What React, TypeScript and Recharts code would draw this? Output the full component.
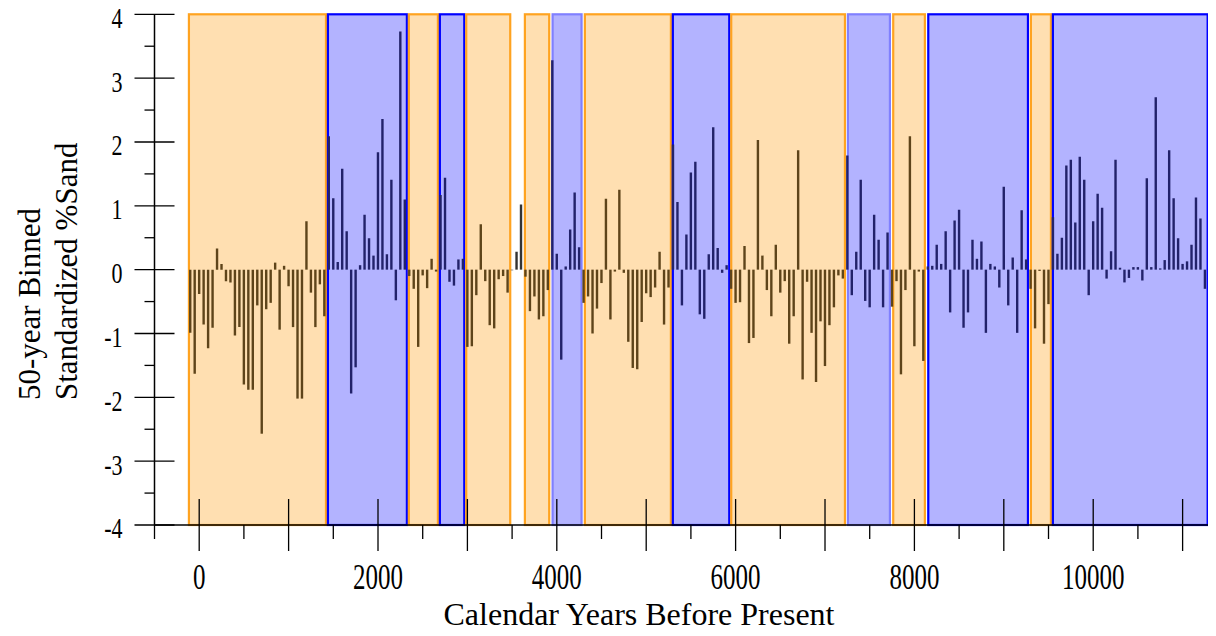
import React from 'react';
import { ComposedChart, Bar, Cell, XAxis, YAxis, ReferenceArea } from 'recharts';

// 50-year bins, first bin centred at -100 yr BP
const firstBinYear = -100;
const binWidth = 50;

// Standardized %Sand, rows grouped by millennium
const sandValues: number[] = [
  // -100, -50
  -0.99, -1.63,
  // 0 .. 950
  -0.38, -0.86, -1.23, -0.91, 0.33, 0.09, -0.18, -0.20, -1.03, -0.90,
  -1.80, -1.88, -1.88, -0.56, -2.57, -0.62, -0.52, 0.11, -0.94, 0.06,
  // 1000 .. 1950
  -0.26, -0.90, -2.02, -2.02, 0.76, -0.36, -0.90, -0.23, -0.73, 2.09,
  1.12, 0.12, 1.58, 0.60, -1.94, -1.53, 0.07, 0.86, 0.49, 0.22,
  // 2000 .. 2950
  1.84, 2.36, 0.24, 1.41, -0.48, 3.73, 1.10, -0.10, -0.30, -1.21,
  -0.09, -0.29, 0.17, -0.03, 1.17, 1.44, -0.19, -0.25, 0.16, 0.17,
  // 3000 .. 3950
  -1.21, -1.20, -0.40, 0.71, -0.18, -0.87, -0.92, -0.15, -0.10, -0.36,
  -0.01, 0.28, 1.02, -0.11, -0.65, -0.42, -0.78, -0.73, -0.32, 3.28,
  // 4000 .. 4950
  0.25, -1.41, 0.05, 0.63, 1.21, 0.35, -0.52, -0.42, -1.00, -0.61,
  -0.21, 1.11, -0.78, -0.03, 1.25, -0.05, -1.13, -1.54, -1.56, -0.82,
  // 5000 .. 5950
  -0.37, -0.43, -0.28, 0.28, -0.86, -0.28, 1.96, 1.06, -0.56, 0.55,
  1.52, 1.69, -0.70, -0.77, 0.24, 2.23, 0.34, -0.05, 0.07, -0.30,
  // 6000 .. 6950
  -0.52, -0.51, 0.37, -1.15, -1.07, 2.03, 0.22, -0.32, -0.73, 0.39,
  -0.36, -0.18, -1.16, -0.73, 1.87, -1.72, -0.19, -0.99, -1.76, -0.81,
  // 7000 .. 7950
  -1.51, -0.87, -0.59, -0.09, -0.14, 1.79, -0.40, 0.28, 1.41, -0.49,
  -0.59, 0.86, 0.47, -0.59, 0.58, -0.58, -0.18, -1.64, -0.32, 2.09,
  // 8000 .. 8950
  -1.20, -0.03, -1.43, 0.05, 0.06, 0.39, 0.09, 0.60, -0.67, 0.77,
  0.94, -0.91, -0.67, 0.47, 0.17, 0.44, -0.99, 0.09, 0.05, -0.28,
  // 9000 .. 9950
  1.30, -0.56, 0.19, -0.99, 0.93, 0.16, -0.30, -0.92, -0.02, -1.16,
  -0.54, 0.82, 0.25, 0.50, 1.63, 1.72, 0.74, 1.77, 1.41, -0.40,
  // 10000 .. 10950
  0.76, 1.19, 0.97, -0.14, 0.29, 1.72, 0.03, -0.20, -0.13, 0.04,
  0.04, -0.17, 1.43, 0.04, 2.70, 0.02, 0.15, 1.87, 1.12, 0.49,
  // 11000 .. 11250
  0.09, 0.13, 0.39, 1.13, 0.80, -0.30,
];

// Shaded periods (years BP)
const periodStart = [-115, 1440, 2345, 2692, 2987, 3643, 3953, 4314, 5298, 5951, 7256, 7763, 8155, 9303, 9549];
const periodEnd = [1418, 2323, 2670, 2965, 3479, 3915, 4277, 5276, 5929, 7223, 7726, 8117, 9270, 9527, 11280];
const periodType = ['dry', 'wet', 'dry', 'wet', 'dry', 'dry', 'wetL', 'dry', 'wet', 'dry', 'wetL', 'dry', 'wet', 'dry', 'wet'];

// Axis ticks
const xTickValues = [-500, 0, 500, 1000, 1500, 2000, 2500, 3000, 3500, 4000, 4500, 5000, 5500, 6000, 6500, 7000, 7500, 8000, 8500, 9000, 9500, 10000, 10500, 11000];
const xLabelValues = [0, 2000, 4000, 6000, 8000, 10000];
const yTickValues = [-4, -3.5, -3, -2.5, -2, -1.5, -1, -0.5, 0, 0.5, 1, 1.5, 2, 2.5, 3, 3.5, 4];

const xTitle = 'Calendar Years Before Present';
const yTitle1 = '50-year Binned';
const yTitle2 = 'Standardized %Sand';

const FONT = '"Liberation Serif", "Times New Roman", serif';

const styles: Record<string, { fill: string; stroke: string; bar: string }> = {
  dry: { fill: '#FFDFB1', stroke: '#FFA320', bar: '#5E441A' },
  wet: { fill: '#B3B3FF', stroke: '#0000FF', bar: '#22226A' },
  wetL: { fill: '#B3B3FF', stroke: '#8080FF', bar: '#22226A' },
};

const data = sandValues.map((v, i) => ({ year: firstBinYear + i * binWidth, v }));

function barColor(year: number): string {
  for (let i = 0; i < periodStart.length; i++) {
    if (year >= periodStart[i] - 15 && year <= periodEnd[i] + 15) return styles[periodType[i]].bar;
  }
  return '#333333';
}

const PeriodShape = (props: any) => {
  const { x, y, width, height, fill, stroke } = props;
  return (
    <rect x={x} y={y} width={width} height={height} fill={fill} stroke={stroke} strokeWidth={2.2} />
  );
};

const XTick = (props: any) => {
  const { x, y, payload } = props;
  const v = payload.value as number;
  const major = v % 1000 === 0;
  const label = xLabelValues.includes(v);
  return (
    <g>
      {major ? (
        <line x1={x} x2={x} y1={y - 26} y2={y + 26} stroke="#000" strokeWidth={1.3} />
      ) : (
        <line x1={x} x2={x} y1={y} y2={y + 14} stroke="#000" strokeWidth={1.3} />
      )}
      {label && (
        <text
          transform={`translate(${x},${y + 52}) scale(1,1.4)`}
          textAnchor="middle"
          dy={8.3}
          fontSize={25}
          fontFamily={FONT}
          fill="#000"
        >
          {v}
        </text>
      )}
    </g>
  );
};

const YTick = (props: any) => {
  const { x, y, payload } = props;
  const v = payload.value as number;
  const major = Number.isInteger(v);
  return (
    <g>
      {major ? (
        <line x1={x - 20} x2={x + 20} y1={y} y2={y} stroke="#000" strokeWidth={1.3} />
      ) : (
        <line x1={x - 10} x2={x} y1={y} y2={y} stroke="#000" strokeWidth={1.3} />
      )}
      {major && (
        <text
          transform={`translate(${x - 32},${y + 4}) scale(1,1.3)`}
          textAnchor="end"
          dy={7.3}
          fontSize={22}
          fontFamily={FONT}
          fill="#000"
        >
          {v}
        </text>
      )}
    </g>
  );
};

export default function App() {
  return (
    <div style={{ position: 'relative', width: 1216, height: 636, margin: '-8px 0 0 -8px' }}>
      <ComposedChart
        width={1216}
        height={636}
        data={data}
        margin={{ top: 14.3, right: 2.1, bottom: 11, left: 14.5 }}
      >
        {periodStart.map((s, i) => (
          <ReferenceArea
            key={i}
            x1={s}
            x2={periodEnd[i]}
            y1={-4}
            y2={4}
            fill={styles[periodType[i]].fill}
            fillOpacity={1}
            stroke={styles[periodType[i]].stroke}
            strokeWidth={2.2}
            shape={<PeriodShape />}
          />
        ))}
        <XAxis
          type="number"
          dataKey="year"
          domain={[-500, 11350]}
          ticks={xTickValues}
          interval={0}
          height={100}
          tickSize={0}
          tickMargin={0}
          tickLine={false}
          axisLine={{ stroke: '#000', strokeWidth: 1.5 }}
          tick={<XTick />}
          allowDataOverflow
        />
        <YAxis
          type="number"
          domain={[-4, 4]}
          ticks={yTickValues}
          interval={0}
          width={140}
          tickSize={0}
          tickMargin={0}
          tickLine={false}
          axisLine={{ stroke: '#000', strokeWidth: 1.5 }}
          tick={<YTick />}
          allowDataOverflow
        />
        <Bar dataKey="v" barSize={2.4} isAnimationActive={false}>
          {data.map((d, i) => (
            <Cell key={i} fill={barColor(d.year)} />
          ))}
        </Bar>
      </ComposedChart>
      <svg
        width={1216}
        height={636}
        style={{ position: 'absolute', left: 0, top: 0, pointerEvents: 'none' }}
      >
        <text x={639} y={625} textAnchor="middle" fontSize={32} fontFamily={FONT} fill="#000">
          {xTitle}
        </text>
        <text transform="translate(40,400) rotate(-90)" fontSize={31} fontFamily={FONT} fill="#000">
          {yTitle1}
        </text>
        <text transform="translate(77,400) rotate(-90)" fontSize={31} fontFamily={FONT} fill="#000">
          {yTitle2}
        </text>
      </svg>
    </div>
  );
}
